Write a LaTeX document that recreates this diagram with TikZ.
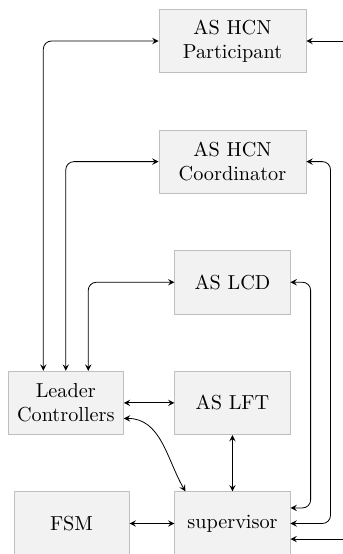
\documentclass[tikz,border=0pt]{standalone}
\usetikzlibrary{positioning, calc, arrows}

\begin{document}
\begin{tikzpicture}[block/.style={rectangle, draw=gray!50, fill=gray!10,
      minimum width=2cm, minimum height=1.1cm, align=center}, >=stealth,
    node distance=0.98cm]
    \useasboundingbox (-4.036,-8.906) rectangle (1.918,0.712);

    \node[block, minimum width=2.55cm] (hcnp) at (0,0) {AS HCN\\Participant};
    \node[block, minimum width=2.55cm, below=of hcnp] (hcnc) {AS HCN\\Coordinator};
    \node[block, below=of hcnc] (lcd) {AS LCD};
    \node[block, below=of lcd] (lft) {AS LFT};
    \node[block, below=of lft] (sup) {supervisor};
    \node[block, inner xsep=2.5pt, left=0.88cm of lft] (lc) {Leader\\Controllers};
    \node[block, left=0.78cm of sup] (fsm) {FSM};

    \coordinate (pin) at (2.1,0);
    \coordinate (rc) at ([xshift=4.2mm]hcnc.east);
    \coordinate (rl) at ([xshift=3.5mm]lcd.east);

    \draw[<->, rounded corners] ([xshift=-0.39cm]lc.north) |- (hcnp.west);
    \draw[<->, rounded corners] (lc.north) |- (hcnc.west);
    \draw[<->, rounded corners] ([xshift=0.39cm]lc.north) |- (lcd.west);
    \draw[<-] (hcnp.east) -- (pin);
    \draw[<->, rounded corners] (hcnc.east) -| (rc |- sup.east) -- (sup.east);
    \draw[<->, rounded corners] (lcd.east) -| (rl |- sup.15) -- (sup.15);
    \draw[<-] (sup.-15) -- (sup.-15 -| pin);
    \draw[<->] (lc.east) -- (lft.west);
    \draw[<->] (lc.-15) to[out=0, in=120] ([xshift=1.9mm]sup.north west);
    \draw[<->] (lft.south) -- (sup.north);
    \draw[<->] (fsm.east) -- (sup.west);
  \end{tikzpicture}
\end{document}
